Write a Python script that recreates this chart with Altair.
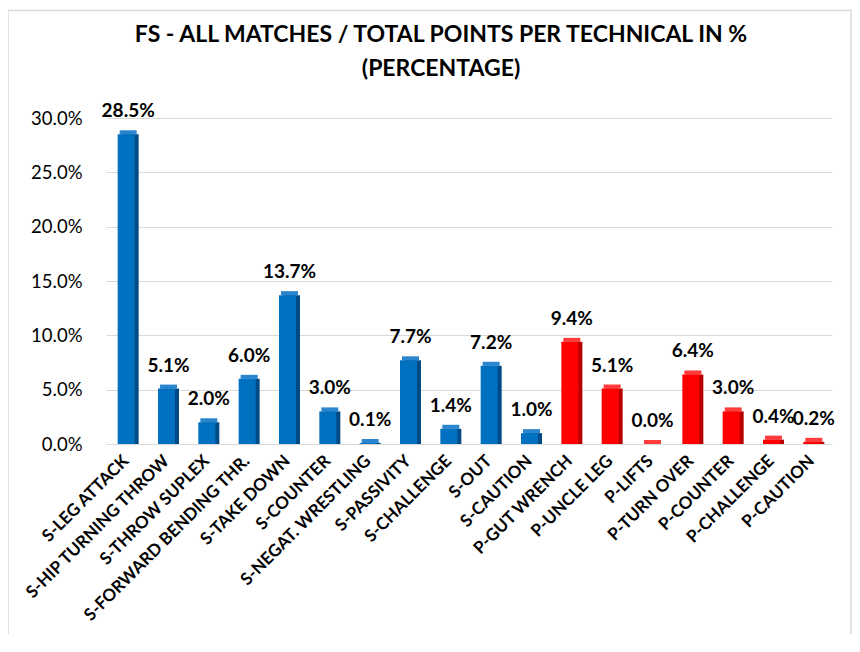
import altair as alt
import pandas as pd

categories = ["S-LEG ATTACK", "S-HIP TURNING THROW", "S-THROW  SUPLEX", "S-FORWARD BENDING THR.",
              "S-TAKE DOWN", "S-COUNTER", "S-NEGAT. WRESTLING", "S-PASSIVITY", "S-CHALLENGE",
              "S-OUT", "S-CAUTION", "P-GUT WRENCH", "P-UNCLE LEG", "P-LIFTS", "P-TURN OVER",
              "P-COUNTER", "P-CHALLENGE", "P-CAUTION"]
shares_pct = [28.5, 5.1, 2.0, 6.0, 13.7, 3.0, 0.1, 7.7, 1.4, 7.2, 1.0, 9.4, 5.1, 0.0, 6.4, 3.0, 0.4, 0.2]
groups = ["S"] * 11 + ["P"] * 7
y_ticks = [0.0, 0.05, 0.10, 0.15, 0.20, 0.25, 0.30]

df = pd.DataFrame({"cat": categories, "share": [v / 100 for v in shares_pct], "grp": groups})

FONT = "Lato"
isS = alt.datum.grp == "S"

x = alt.X("cat:N", sort=categories, title=None,
          scale=alt.Scale(paddingInner=0, paddingOuter=0),
          axis=alt.Axis(labelAngle=-45, labelAlign="right", labelBaseline="middle",
                        labelFont=FONT, labelFontSize=17, labelFontWeight="bold",
                        labelColor="#000000", labelPadding=14, domain=False, ticks=False,
                        grid=False, labelLimit=400))
y = alt.Y("share:Q", title=None,
          scale=alt.Scale(domain=[0, 0.3]),
          axis=alt.Axis(values=y_ticks, format=".1%", labelFont=FONT, labelFontSize=18.5,
                        labelColor="#000000", labelPadding=24, domain=False, ticks=False,
                        grid=True, gridColor="#d9d9d9", gridWidth=1.2))

base = alt.Chart(df).encode(x=x, y=y)

side_face = base.mark_bar(width=17, xOffset=4).encode(
    color=alt.condition(isS, alt.value("#004a86"), alt.value("#b80000")))
top_face = base.mark_tick(size=17, thickness=4, xOffset=2, yOffset=-2, opacity=1).encode(
    color=alt.condition(isS, alt.value("#2a86cf"), alt.value("#ff3b3b")))
front_face = base.mark_bar(width=17).encode(
    color=alt.condition(isS, alt.value("#0070c0"), alt.value("#ff0000")))
labels = base.mark_text(dy=-17, dx=2, baseline="alphabetic", font=FONT, fontSize=19,
                        fontWeight="bold", color="#000000").encode(
    text=alt.Text("share:Q", format=".1%"))

frame = alt.Chart(pd.DataFrame({"k": [0]})).mark_rect(
    fillOpacity=0, stroke="#d9d9d9", strokeWidth=1.5).encode(
    x=alt.value(-98), x2=alt.value(745), y=alt.value(-107.5), y2=alt.value(560))

chart = alt.layer(frame, side_face, top_face, front_face, labels).properties(
    width=726, height=326,
    title=alt.TitleParams(["FS - ALL MATCHES / TOTAL POINTS PER TECHNICAL IN %", "(PERCENTAGE)"],
                          font=FONT, fontSize=23, fontWeight="bold", color="#000000",
                          anchor="middle", frame="group", dx=-28, dy=108, offset=37, lineHeight=34),
    autosize=alt.AutoSizeParams(type="none"),
    padding={"left": 98, "top": 110, "right": 20, "bottom": 190},
).configure_view(stroke=None)

chart.save("out.html", embed_options={"renderer": "svg", "actions": False})
